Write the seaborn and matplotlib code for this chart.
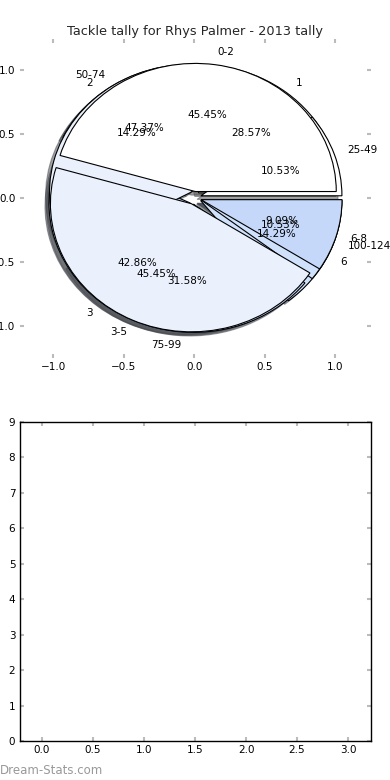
import matplotlib
matplotlib.use("Agg")
import matplotlib.pyplot as plt
import seaborn as sns

# ---- data ----
title = "Tackle tally for Rhys Palmer - 2013 tally"
labels_a = ["0-2", "3-5", "6-8"]
values_a = [5, 5, 1]
labels_b = ["1", "2", "3", "6"]
values_b = [2, 1, 3, 1]
labels_c = ["25-49", "50-74", "75-99", "100-124"]
values_c = [2, 9, 6, 2]
pie_xticks = [-1.0, -0.5, 0.0, 0.5, 1.0]
pie_yticks = [-1.0, -0.5, 0.0, 0.5, 1.0]
bar_xticks = [0.0, 0.5, 1.0, 1.5, 2.0, 2.5, 3.0]
bar_yticks = list(range(0, 10))
watermark = "Dream-Stats.com"

sns.set_theme(style="white")
plt.rcParams["font.family"] = ["DejaVu Sans"]

wedge_colors = ["#ffffff", "#eaf1fd", "#c5d8fa", "#d0e1fc"]

fig = plt.figure(figsize=(3.9, 7.8), dpi=100)
ax1 = fig.add_axes([0.05, 0.541, 0.90, 0.409])
ax2 = fig.add_axes([0.05, 0.05, 0.90, 0.409])

def draw_pie(ax, vals, labs):
    ax.pie(vals, labels=labs, autopct="%1.2f%%", explode=[0.05] * len(vals),
           colors=wedge_colors[:len(vals)], shadow=True,
           labeldistance=1.1, pctdistance=0.6,
           wedgeprops=dict(edgecolor="black", linewidth=0.8),
           textprops=dict(fontsize=7.5, color="black"))

draw_pie(ax1, values_b, labels_b)
draw_pie(ax1, values_c, labels_c)
draw_pie(ax1, values_a, labels_a)

ax1.set_aspect("auto")
ax1.set_frame_on(False)
ax1.set_xlim(-1.24, 1.25)
ax1.set_ylim(-1.25, 1.24)
ax1.set_xticks(pie_xticks)
ax1.set_yticks(pie_yticks)
ax1.set_title(title, fontsize=9.3, pad=3)

ax2.set_xlim(-0.22, 3.22)
ax2.set_ylim(0, 9)
ax2.set_xticks(bar_xticks)
ax2.set_yticks(bar_yticks)
for s in ax2.spines.values():
    s.set_color("black")
    s.set_linewidth(1.0)
    s.set_visible(True)

for ax in (ax1, ax2):
    ax.tick_params(axis="both", which="major", direction="in", length=3, width=1.5,
                   color="#bbbbbb", labelsize=7.5, labelcolor="black",
                   top=True, right=True, bottom=True, left=True, pad=3)
    ax.grid(False)

fig.text(0.0, 1 - 770 / 780, watermark, fontsize=8.5, color="#999999",
         ha="left", va="center")

fig.savefig("out.png", dpi=100, facecolor="white")
